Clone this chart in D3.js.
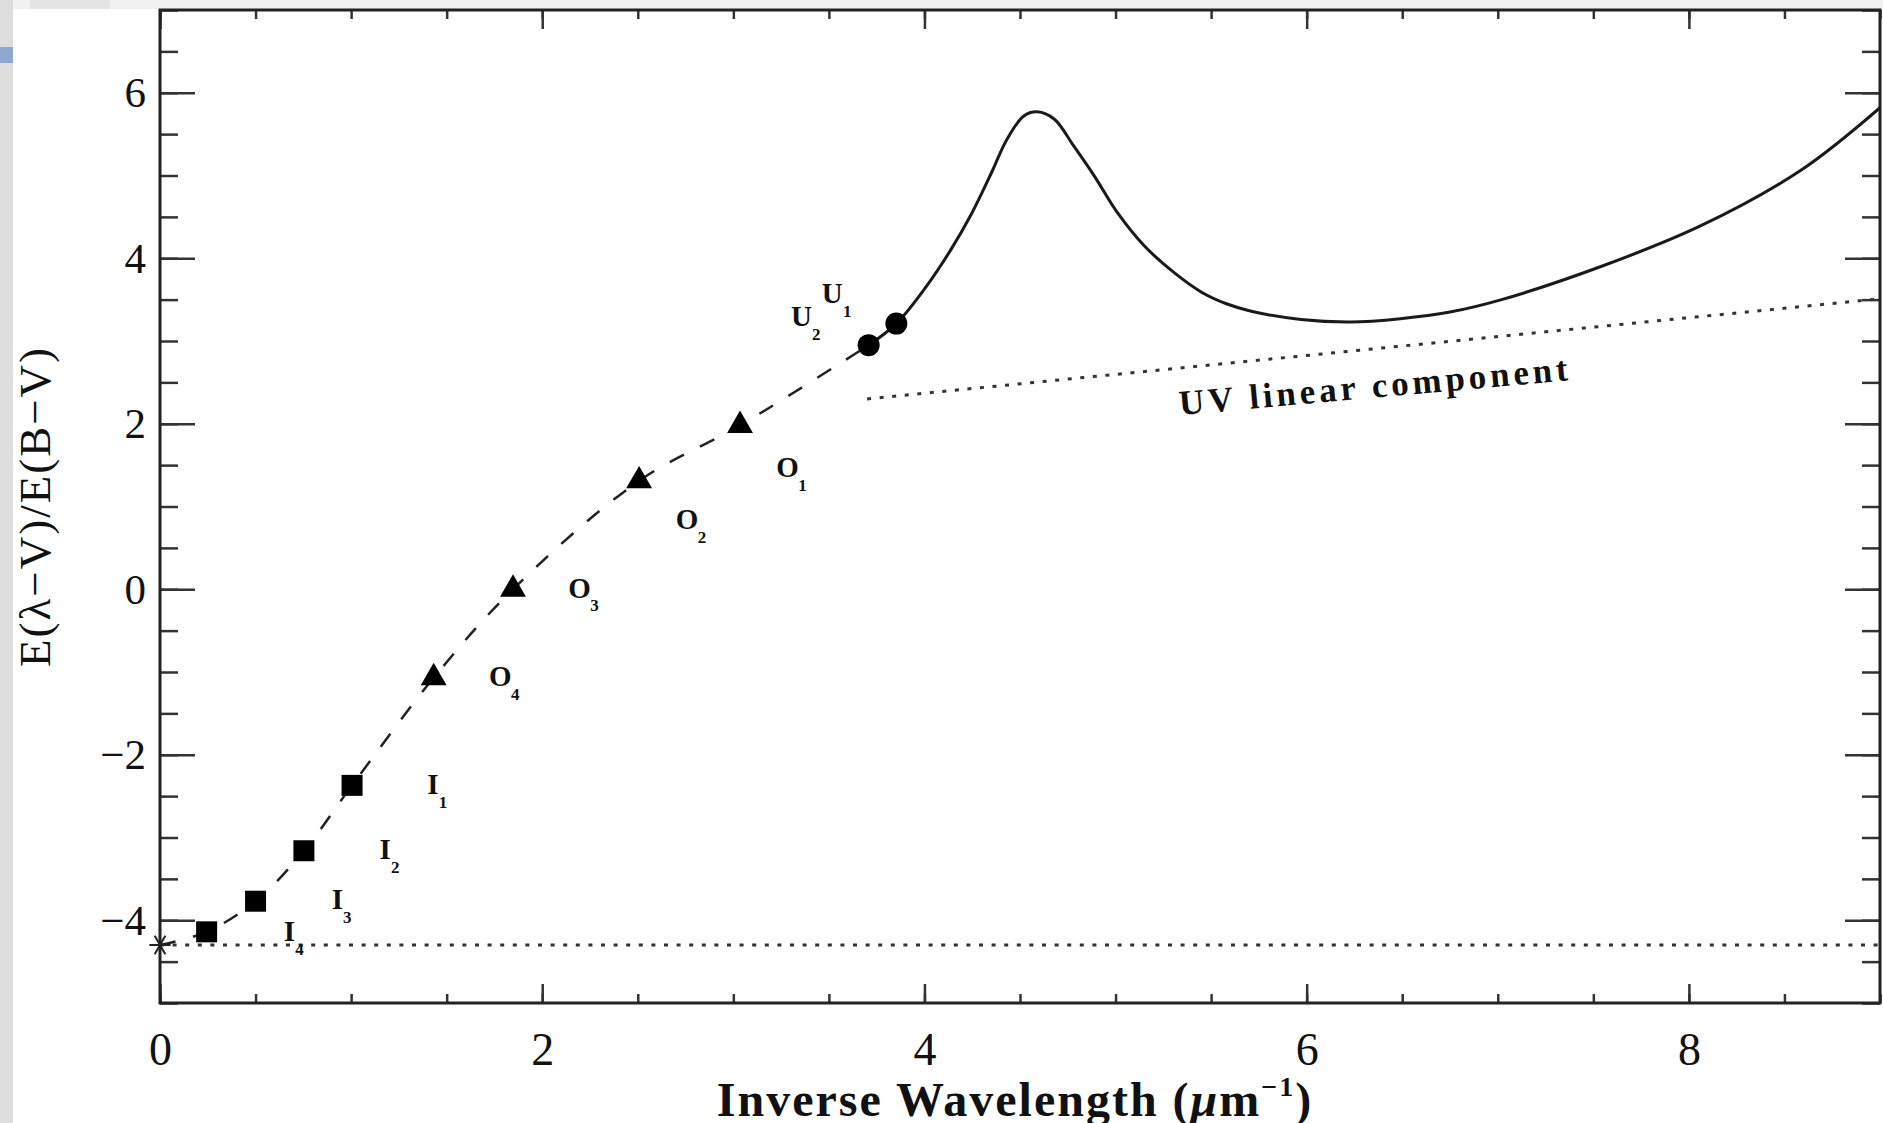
<!DOCTYPE html>
<html>
<head>
<meta charset="utf-8">
<script src="https://cdn.jsdelivr.net/npm/d3@7"></script>
<style>
  body { margin: 0; background: #fff; }
  svg { display: block; }
  text { font-family: "Liberation Serif", "DejaVu Serif", serif; fill: #111; }
</style>
</head>
<body>
<div id="chart-area"></div>
<script>
// zero point: E(lambda-V)/E(B-V) at 1/lambda = 0
const zeroX = [0]
const zeroY = [-4.3]

// IR bands I4..I1 (squares)
const irX = [0.244, 0.50, 0.753, 1.005]
const irY = [-4.14, -3.77, -3.16, -2.37]
// optical bands O4..O1 (triangles)
const optX = [1.432, 1.847, 2.507, 3.035]
const optY = [-1.07, 0.0, 1.31, 1.98]
// UV bands U2, U1 (circles)
const uvX = [3.708, 3.853]
const uvY = [2.95, 3.21]

// UV extinction curve
const curveX = [3.708, 3.853, 4.01, 4.14, 4.24, 4.35, 4.43, 4.52, 4.59, 4.68, 4.78, 4.89, 5.01,
  5.15, 5.31, 5.45, 5.58, 5.71, 5.97, 6.23, 6.49, 6.75, 7.02, 7.54, 8.06, 8.59, 9.0]
const curveY = [2.95, 3.21, 3.66, 4.11, 4.51, 5.03, 5.43, 5.72, 5.77, 5.68, 5.36, 4.99, 4.55,
  4.15, 3.82, 3.59, 3.45, 3.36, 3.26, 3.23, 3.27, 3.35, 3.50, 3.90, 4.39, 5.07, 5.82]

// UV linear component
const linX = [3.70, 9.0]
const linY = [2.30, 3.51]

// band labels
const labelLetter = ["I", "I", "I", "I", "O", "O", "O", "O", "U", "U"]
const labelSub = ["4", "3", "2", "1", "4", "3", "2", "1", "2", "1"]
const labelX = [0.677, 0.928, 1.178, 1.428, 1.780, 2.195, 2.758, 3.283, 3.356, 3.518]
const labelY = [-4.127, -3.744, -3.140, -2.355, -1.047, 0.021, 0.845, 1.479, 3.301, 3.583]

// ticks
const majorX = [0, 2, 4, 6, 8]
const minorX = d3.range(0, 9.01, 0.5)
const majorY = [-4, -2, 0, 2, 4, 6]
const minorY = d3.range(-5, 7.01, 0.5)

const MARGIN = { LEFT: 160, RIGHT: 3, TOP: 10, BOTTOM: 120 }
const WIDTH = 1883 - MARGIN.LEFT - MARGIN.RIGHT
const HEIGHT = 1123 - MARGIN.TOP - MARGIN.BOTTOM

const svg = d3.select("#chart-area")
  .append("svg")
    .attr("width", 1883)
    .attr("height", 1123)

// screenshot edges
svg.append("rect").attr("width", 1883).attr("height", 1123).attr("fill", "#fff")
svg.append("rect").attr("width", 1883).attr("height", 9).attr("fill", "#f1f1f1")
svg.append("rect").attr("x", 30).attr("width", 80).attr("height", 9).attr("fill", "#e4e4e4")
svg.append("rect").attr("width", 13).attr("height", 1123).attr("fill", "#dddddd")
svg.append("rect").attr("y", 47).attr("width", 13).attr("height", 16).attr("fill", "#8ea8cf")

const g = svg.append("g")
  .attr("transform", `translate(${MARGIN.LEFT}, ${MARGIN.TOP})`)

const x = d3.scaleLinear().domain([0, 9]).range([0, WIDTH])
const y = d3.scaleLinear().domain([-5, 7]).range([HEIGHT, 0])

g.append("clipPath").attr("id", "clip")
  .append("rect").attr("width", WIDTH).attr("height", HEIGHT)

// inward ticks on all four sides
const noLabel = ax => ax.tickFormat("")
const tickGroup = (axis, tr) => g.append("g")
  .attr("transform", tr)
  .call(axis)
  .call(s => s.select(".domain").remove())
  .call(s => s.selectAll("line").attr("stroke", "#333").attr("stroke-width", 2.5))

tickGroup(noLabel(d3.axisRight(y).tickValues(minorY).tickSize(18)), "translate(0,0)")
tickGroup(noLabel(d3.axisRight(y).tickValues(majorY).tickSize(35)), "translate(0,0)")
tickGroup(noLabel(d3.axisLeft(y).tickValues(minorY).tickSize(18)), `translate(${WIDTH},0)`)
tickGroup(noLabel(d3.axisLeft(y).tickValues(majorY).tickSize(35)), `translate(${WIDTH},0)`)
tickGroup(noLabel(d3.axisTop(x).tickValues(minorX).tickSize(9)), `translate(0,${HEIGHT})`)
tickGroup(noLabel(d3.axisTop(x).tickValues(majorX).tickSize(19)), `translate(0,${HEIGHT})`)
tickGroup(noLabel(d3.axisBottom(x).tickValues(minorX).tickSize(9)), "translate(0,0)")
tickGroup(noLabel(d3.axisBottom(x).tickValues(majorX).tickSize(19)), "translate(0,0)")

// frame
g.append("rect")
  .attr("width", WIDTH)
  .attr("height", HEIGHT)
  .attr("fill", "none")
  .attr("stroke", "#222")
  .attr("stroke-width", 3)

// tick labels
const fmt = d => d < 0 ? "\u2212" + Math.abs(d) : String(d)
g.append("g")
  .call(d3.axisLeft(y).tickValues(majorY).tickSize(0).tickPadding(14).tickFormat(fmt))
  .call(s => s.select(".domain").remove())
  .selectAll("text")
    .attr("font-size", "43px")
    .attr("font-family", "Liberation Serif")
    .attr("fill", "#111")

g.append("g")
  .attr("transform", `translate(0, ${HEIGHT})`)
  .call(d3.axisBottom(x).tickValues(majorX).tickSize(0).tickFormat(fmt))
  .call(s => s.select(".domain").remove())
  .selectAll("text")
    .attr("y", 62)
    .attr("dy", 0)
    .attr("font-size", "46px")
    .attr("font-family", "Liberation Serif")
    .attr("fill", "#111")

// axis titles
const xt = g.append("text")
  .attr("x", 855)
  .attr("y", HEIGHT + 113)
  .attr("font-size", "48px")
  .attr("font-weight", "bold")
  .attr("letter-spacing", "2px")
  .attr("text-anchor", "middle")
xt.append("tspan").text("Inverse Wavelength (")
xt.append("tspan").attr("font-style", "italic").text("\u03bc")
xt.append("tspan").text("m")
xt.append("tspan").attr("font-size", "28px").attr("dy", -20).text("\u22121")
xt.append("tspan").attr("dy", 20).text(")")

g.append("text")
  .attr("x", -(HEIGHT / 2))
  .attr("y", -110)
  .attr("font-size", "45px")
  .attr("letter-spacing", "2px")
  .attr("text-anchor", "middle")
  .attr("transform", "rotate(-90)")
  .text("E(\u03bb\u2212V)/E(B\u2212V)")

const plot = g.append("g").attr("clip-path", "url(#clip)")

// horizontal -R(V) level
plot.append("line")
  .attr("x1", x(0)).attr("x2", x(9))
  .attr("y1", y(zeroY[0])).attr("y2", y(zeroY[0]))
  .attr("stroke", "#333")
  .attr("stroke-width", 3)
  .attr("stroke-dasharray", "4 8.6")

// UV linear component
plot.append("line")
  .attr("x1", x(linX[0])).attr("x2", x(linX[1]))
  .attr("y1", y(linY[0])).attr("y2", y(linY[1]))
  .attr("stroke", "#333")
  .attr("stroke-width", 3)
  .attr("stroke-dasharray", "4 8.6")

// dashed curve through the photometric points
const bandX = zeroX.concat(irX, optX, uvX.slice(0, 1))
const bandY = zeroY.concat(irY, optY, uvY.slice(0, 1))
const line = d3.line()
  .x(d => x(d[0]))
  .y(d => y(d[1]))
  .curve(d3.curveCatmullRom.alpha(0.5))

plot.append("path")
  .attr("d", line(d3.zip(bandX, bandY)))
  .attr("fill", "none")
  .attr("stroke", "#222")
  .attr("stroke-width", 2.5)
  .attr("stroke-dasharray", "16 18")

// UV extinction curve
plot.append("path")
  .attr("d", line(d3.zip(curveX, curveY)))
  .attr("fill", "none")
  .attr("stroke", "#1a1a1a")
  .attr("stroke-width", 3)

// markers
const addMarkers = (xs, ys, type, size) => {
  g.selectAll(null)
    .data(d3.zip(xs, ys))
    .enter().append("path")
      .attr("transform", d => `translate(${x(d[0])}, ${y(d[1])})`)
      .attr("d", d3.symbol(type, size))
      .attr("fill", "#000")
}
addMarkers(irX, irY, d3.symbolSquare, 441)
addMarkers(optX, optY, d3.symbolTriangle, 290)
addMarkers(uvX, uvY, d3.symbolCircle, 380)

g.selectAll(null)
  .data(d3.zip(zeroX, zeroY))
  .enter().append("path")
    .attr("transform", d => `translate(${x(d[0])}, ${y(d[1])}) rotate(90)`)
    .attr("d", d3.symbol(d3.symbolAsterisk, 320))
    .attr("fill", "none")
    .attr("stroke", "#222")
    .attr("stroke-width", 2)

// band labels
const labels = g.selectAll(".band-label")
  .data(d3.range(labelLetter.length))
  .enter().append("g")
    .attr("class", "band-label")
    .attr("transform", i => `translate(${x(labelX[i])}, ${y(labelY[i])})`)
labels.append("text")
  .attr("text-anchor", "middle")
  .attr("dy", "0.35em")
  .attr("font-size", "29px")
  .attr("font-weight", "bold")
  .text(i => labelLetter[i])
labels.append("text")
  .attr("x", i => labelLetter[i] === "I" ? 10 : 15)
  .attr("y", 18)
  .attr("text-anchor", "middle")
  .attr("dy", "0.35em")
  .attr("font-size", "17px")
  .attr("font-weight", "bold")
  .text(i => labelSub[i])

// annotation
g.append("text")
  .attr("transform", `translate(${1180 - MARGIN.LEFT}, ${415 - MARGIN.TOP}) rotate(-5.1)`)
  .attr("font-size", "35px")
  .attr("font-weight", "bold")
  .attr("textLength", 390)
  .attr("lengthAdjust", "spacing")
  .text("UV linear component")
</script>
</body>
</html>
